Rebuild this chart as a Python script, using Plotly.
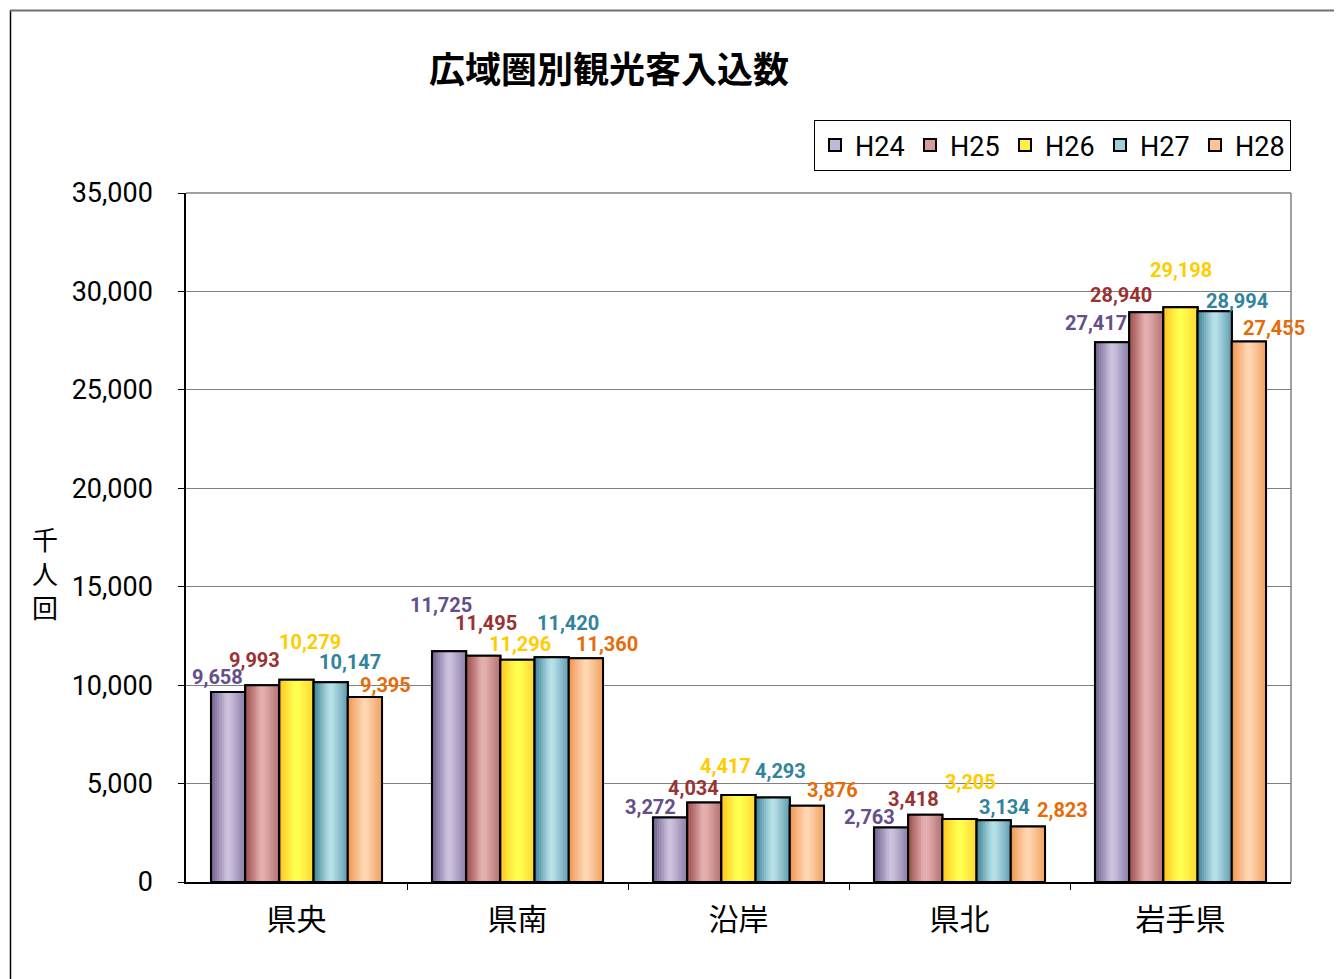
import plotly.graph_objects as go

categories = ["県央", "県南", "沿岸", "県北", "岩手県"]
series_names = ["H24", "H25", "H26", "H27", "H28"]
values = {
    "H24": [9658, 11725, 3272, 2763, 27417],
    "H25": [9993, 11495, 4034, 3418, 28940],
    "H26": [10279, 11296, 4417, 3205, 29198],
    "H27": [10147, 11420, 4293, 3134, 28994],
    "H28": [9395, 11360, 3876, 2823, 27455],
}
y_ticks = [0, 5000, 10000, 15000, 20000, 25000, 30000, 35000]

# styles
grad = {  # left(dark), middle(light), right(medium)
    "H24": ((106, 90, 136), (204, 193, 221), (138, 124, 168)),
    "H25": ((150, 70, 70), (230, 176, 176), (176, 112, 112)),
    "H26": ((255, 196, 32), (255, 255, 80), (255, 214, 48)),
    "H27": ((62, 130, 150), (182, 224, 232), (94, 154, 174)),
    "H28": ((240, 148, 80), (255, 214, 178), (240, 160, 96)),
}
legend_color = {"H24": "#C3B7D8", "H25": "#D99A9A", "H26": "#FFEE44",
                "H27": "#9ED0DC", "H28": "#FFC396"}
label_color = {"H24": "#654E8A", "H25": "#993333", "H26": "#FFCC00",
               "H27": "#31849B", "H28": "#E46C0A"}
# label offsets (px) relative to bar centre / bar top
label_dx = [[-11, -8, -20, -22, -16], [-8, 3, -11, -12, -25], [13, 2, -13, 11, 0],
            [19, 16, 8, 11, 22], [21, 21, 26, 35, 25]]
label_dy = [[15, 46, 11, 11, 19], [25, 33, 15, 16, 17], [38, 16, 29, 37, 37],
            [20, 34, 26, 13, 10], [12, 14, 16, 16, 14]]

GROUP = 0.774
W = GROUP / 5
NSTRIP = 16
xs = list(range(len(categories)))

# figure geometry (page has an 8px body margin)
OFF = 8
FW, FH = 1342 - OFF, 979 - OFF
PL, PR, PT, PB = 186 - OFF, 1291 - OFF, 193 - OFF, 882 - OFF
PW, PH = PR - PL, PB - PT


def px(xp):
    return (xp - OFF - PL) / PW


def py(yp):
    return (PB - (yp - OFF)) / PH


def mix(a, b, t):
    return tuple(int(round(a[i] + (b[i] - a[i]) * t)) for i in range(3))


def grad_color(name, t):
    d, l, r = grad[name]
    if t < 0.5:
        c = mix(d, l, min(1.0, t / 0.45))
    else:
        c = mix(l, r, max(0.0, (t - 0.55) / 0.45))
    return "rgb(%d,%d,%d)" % c


fig = go.Figure()

for k, name in enumerate(series_names):
    off = -GROUP / 2 + k * W
    fig.add_trace(go.Bar(x=xs, y=values[name], name=name, offset=off, width=W,
                         marker=dict(color=legend_color[name], line=dict(color="black", width=2)),
                         showlegend=True, hoverinfo="skip"))
    for j in range(NSTRIP):
        t = (j + 0.5) / NSTRIP
        fig.add_trace(go.Bar(x=xs, y=values[name], offset=off + j * W / NSTRIP,
                             width=W / NSTRIP * 1.15,
                             marker=dict(color=grad_color(name, t), line=dict(width=0)),
                             showlegend=False, hoverinfo="skip"))
    fig.add_trace(go.Bar(x=xs, y=values[name], offset=off, width=W,
                         marker=dict(color="rgba(0,0,0,0)", line=dict(color="black", width=2)),
                         showlegend=False, hoverinfo="skip"))

annotations = []
for k, name in enumerate(series_names):
    for i, v in enumerate(values[name]):
        cx = i - GROUP / 2 + (k + 0.5) * W
        annotations.append(dict(x=cx, y=v, xref="x", yref="y", text=f"{v:,}",
                                showarrow=False, xanchor="center", yanchor="middle",
                                xshift=label_dx[k][i], yshift=label_dy[k][i],
                                font=dict(family="Roboto", size=20, color=label_color[name],
                                          weight="bold")))

annotations.append(dict(x=px(609), y=py(67), xref="paper", yref="paper",
                        text="<b>広域圏別観光客入込数</b>", showarrow=False,
                        font=dict(family="Noto Sans CJK JP", size=36, color="black"),
                        xanchor="center", yanchor="middle"))
annotations.append(dict(x=px(45), y=py(572), xref="paper", yref="paper",
                        text="千<br>人<br>回", showarrow=False,
                        font=dict(family="Noto Sans CJK JP", size=26, color="black"),
                        xanchor="center", yanchor="middle"))

shapes = [
    dict(type="line", xref="paper", yref="paper", x0=px(10.5), x1=px(10.5),
         y0=py(10), y1=py(1000), line=dict(color="black", width=1.5)),
    dict(type="line", xref="paper", yref="paper", x0=px(10), x1=px(1360),
         y0=py(10.5), y1=py(10.5), line=dict(color="#707070", width=2)),
    dict(type="line", xref="paper", yref="paper", x0=0, x1=1, y0=1, y1=1,
         line=dict(color="#808080", width=1.5)),
    dict(type="line", xref="paper", yref="paper", x0=1, x1=1, y0=0, y1=1,
         line=dict(color="#808080", width=1.5)),
]

fig.update_layout(
    width=FW, height=FH,
    margin=dict(l=PL, r=FW - PR, t=PT, b=FH - PB, pad=0),
    paper_bgcolor="white", plot_bgcolor="white",
    font=dict(family="Noto Sans CJK JP", color="black"),
    barmode="overlay",
    showlegend=True,
    legend=dict(orientation="h", x=1.0, xanchor="right", y=py(120), yanchor="top",
                bordercolor="black", borderwidth=1, bgcolor="white",
                font=dict(family="Roboto", size=27, color="black"),
                itemwidth=30, entrywidth=50, traceorder="normal"),
    annotations=annotations,
    shapes=shapes,
    xaxis=dict(range=[-0.5, 4.5], tickvals=xs, ticktext=categories, ticks="",
               showline=True, linecolor="black", linewidth=1.5, showgrid=False,
               zeroline=False, tickfont=dict(family="Noto Sans CJK JP", size=30),
               ticklabelstandoff=10, fixedrange=True),
    xaxis2=dict(range=[-0.5, 4.5], overlaying="x", side="bottom", tickvals=[0.5, 1.5, 2.5, 3.5],
                showticklabels=False, ticks="outside", ticklen=7, tickcolor="black",
                showgrid=False, zeroline=False, showline=False),
    yaxis=dict(range=[0, 35000], tickvals=y_ticks, tickformat=",", ticks="outside", ticklen=6,
               tickcolor="black", showline=True, linecolor="black", linewidth=1.5,
               showgrid=True, gridcolor="#808080", gridwidth=1, zeroline=False,
               tickfont=dict(family="Roboto", size=27), ticklabelstandoff=20),
)
fig.add_trace(go.Scatter(x=[None], y=[None], xaxis="x2", showlegend=False, hoverinfo="skip"))

fig.write_html("out.html")
